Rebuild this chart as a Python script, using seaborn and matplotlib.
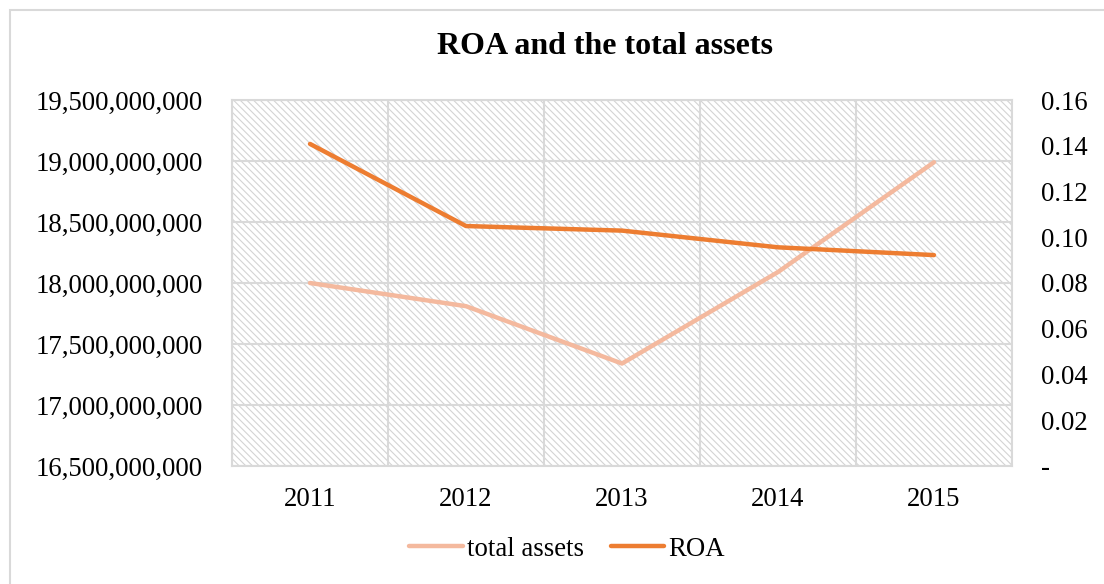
import numpy as np
import pandas as pd
import matplotlib
matplotlib.use("Agg")
import matplotlib.pyplot as plt
import seaborn as sns
from matplotlib.patches import Rectangle
from matplotlib.ticker import FuncFormatter
from matplotlib.lines import Line2D

years = ["2011", "2012", "2013", "2014", "2015"]
total_assets = [18.00e9, 17.81e9, 17.34e9, 18.09e9, 18.99e9]
roa = [0.1408, 0.1049, 0.1029, 0.0956, 0.0922]
left_ticks = [16.5e9, 17.0e9, 17.5e9, 18.0e9, 18.5e9, 19.0e9, 19.5e9]
right_ticks = [0.0, 0.02, 0.04, 0.06, 0.08, 0.10, 0.12, 0.14, 0.16]

c_ta = "#F4B99E"
c_roa = "#ED7D31"
grid_c = "#D9D9D9"

sns.set_style("white")
plt.rcParams["font.family"] = ["Liberation Serif", "DejaVu Serif"]
plt.rcParams["hatch.linewidth"] = 0.8
plt.rcParams["text.color"] = "black"
plt.rcParams["xtick.labelcolor"] = "black"
plt.rcParams["ytick.labelcolor"] = "black"

FS = 19.3

fig = plt.figure(figsize=(11.04, 5.84), dpi=100)
W, H = 1104, 584
ax = fig.add_axes([232 / W, 1 - 466 / H, 780 / W, 366 / H])

# outer border
fig.patches.append(Rectangle((10 / W, -0.01), 1.02, 1 - 10 / H + 0.01, transform=fig.transFigure,
                             fill=False, edgecolor=grid_c, lw=1.5, zorder=0))

df = pd.DataFrame({"pos": np.arange(len(years)), "ta": total_assets, "roa": roa})

# hatched background
ax.patch.set_visible(False)
ax.add_patch(Rectangle((0, 0), 1, 1, transform=ax.transAxes, facecolor="white",
                       edgecolor="#D4D4D4", hatch="\\\\\\\\\\", lw=0, zorder=0))

sns.lineplot(data=df, x="pos", y="ta", ax=ax, color=c_ta, lw=3.2, zorder=3,
             solid_capstyle="round", legend=False)
ax.set_xlim(-0.5, 4.5)
ax.set_ylim(16.5e9, 19.5e9)
ax.set_yticks(left_ticks)
ax.yaxis.set_major_formatter(FuncFormatter(lambda v, p: f"{v:,.0f}"))
ax.set_xticks(np.arange(len(years)))
ax.set_xticklabels(years)
ax.set_xticks(np.arange(-0.5, 5.0, 1.0), minor=True)
ax.tick_params(axis="x", which="major", length=0, pad=15, labelsize=FS)
ax.tick_params(axis="x", which="minor", length=7, color=grid_c, width=1.2)
ax.tick_params(axis="y", length=0, pad=21, labelsize=FS)
ax.grid(True, axis="y", color=grid_c, lw=1.5, zorder=1)
ax.grid(True, axis="x", which="minor", color=grid_c, lw=1.5, zorder=1)
ax.grid(False, axis="x", which="major")
ax.set_xlabel("")
ax.set_ylabel("")
for s in ax.spines.values():
    s.set_color(grid_c)
    s.set_linewidth(1.5)

ax2 = ax.twinx()
sns.lineplot(data=df, x="pos", y="roa", ax=ax2, color=c_roa, lw=3.2, zorder=3,
             solid_capstyle="round", legend=False)
ax2.set_ylim(0, 0.16)
ax2.set_yticks(right_ticks)
ax2.yaxis.set_major_formatter(FuncFormatter(lambda v, p: "-" if abs(v) < 1e-9 else f"{v:.2f}"))
ax2.tick_params(axis="y", length=0, pad=21, labelsize=FS)
ax2.set_ylabel("")
ax2.set_xlim(-0.5, 4.5)
for s in ax2.spines.values():
    s.set_visible(False)

fig.text(605 / W, 1 - 47 / H, "ROA and the total assets", ha="center", va="center",
         fontsize=23, fontweight="bold")

handles = [Line2D([], [], color=c_ta, lw=3.2, solid_capstyle="round"),
           Line2D([], [], color=c_roa, lw=3.2, solid_capstyle="round")]
fig.legend(handles, ["total assets", "ROA"], loc="center", bbox_to_anchor=(567 / W, 1 - 549 / H),
           ncol=2, frameon=False, fontsize=FS, handlelength=2.0, handletextpad=0.15,
           columnspacing=1.0, borderaxespad=0, borderpad=0)

fig.savefig("out.png", dpi=100)
